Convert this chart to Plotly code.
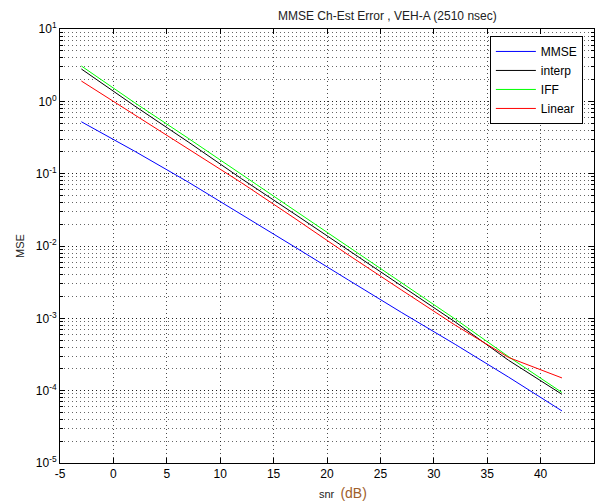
import plotly.graph_objects as go

# SNR points (dB) and channel-estimation MSE for each estimator
snr = [-3, 2, 7, 12, 17, 22, 27, 32, 37, 42]
mse_mmse = [0.522, 0.204, 0.0766, 0.0274, 0.00966, 0.00339, 0.00120, 0.000437, 0.000154, 5.25e-5]
mse_interp = [2.80, 0.861, 0.275, 0.0851, 0.0275, 0.00871, 0.00275, 0.000891, 0.000263, 8.91e-5]
mse_iff = [3.08, 0.955, 0.309, 0.0977, 0.0309, 0.00977, 0.00302, 0.000977, 0.000295, 9.44e-5]
mse_linear = [1.91, 0.646, 0.219, 0.0748, 0.0240, 0.00752, 0.00245, 0.000805, 0.000288, 0.000150]

x_ticks = [-5, 0, 5, 10, 15, 20, 25, 30, 35, 40, 45]
y_exps = [-5, -4, -3, -2, -1, 0, 1]

series = [
    ("MMSE", mse_mmse, "#0000ff"),
    ("interp", mse_interp, "#000000"),
    ("IFF", mse_iff, "#00ff00"),
    ("Linear", mse_linear, "#ff0000"),
]

font = "Liberation Sans, Arial, sans-serif"
dots = "1px,3px"

fig = go.Figure()
for name, vals, col in series:
    fig.add_trace(go.Scatter(x=snr, y=vals, mode="lines", name=name,
                             line=dict(color=col, width=1)))

axis_common = dict(
    showline=True, linecolor="black", linewidth=1, mirror="allticks",
    ticks="inside", ticklen=5, tickcolor="black",
    showgrid=True, gridcolor="rgba(0,0,0,0.7)", griddash=dots, gridwidth=1,
    zeroline=False, tickfont=dict(family=font, size=12, color="black"),
)

fig.update_xaxes(range=[-5, 45], tickvals=x_ticks, ticktext=[str(v) for v in x_ticks],
                 **axis_common)
fig.update_yaxes(type="log", range=[-5, 1], tickvals=[10.0 ** e for e in y_exps],
                 ticktext=[f"10<sup>{e}</sup>" for e in y_exps],
                 minor=dict(dtick="D1", ticks="inside", ticklen=3, tickcolor="black",
                            showgrid=True, gridcolor="rgba(0,0,0,0.6)", griddash=dots,
                            gridwidth=1),
                 **axis_common)

fig.add_annotation(text="MMSE Ch-Est Error , VEH-A (2510 nsec)", xref="paper", yref="paper",
                   x=0.614, y=1.0, yshift=4, xanchor="center", yanchor="bottom",
                   showarrow=False, font=dict(family=font, size=12, color="#222222"))
fig.add_annotation(text="snr  <span style='font-size:14px;color:#a0602a'>(dB)</span>",
                   xref="paper", yref="paper", x=0.53, y=0, yshift=-20,
                   xanchor="center", yanchor="top", showarrow=False,
                   font=dict(family=font, size=11, color="#222222"))
fig.add_annotation(text="MSE", xref="paper", yref="paper", x=0, xshift=-40, y=0.5,
                   textangle=-90, xanchor="center", yanchor="middle", showarrow=False,
                   font=dict(family=font, size=11, color="#222222"))

fig.update_layout(
    width=598, height=502,
    margin=dict(l=60, r=4, t=29, b=39),
    paper_bgcolor="white", plot_bgcolor="white",
    showlegend=True,
    legend=dict(x=0.805, y=0.984, xanchor="left", yanchor="top",
                bgcolor="white", bordercolor="black", borderwidth=1,
                font=dict(family=font, size=12, color="black"),
                tracegroupgap=0, itemwidth=40),
)

fig.write_html("out.html")
